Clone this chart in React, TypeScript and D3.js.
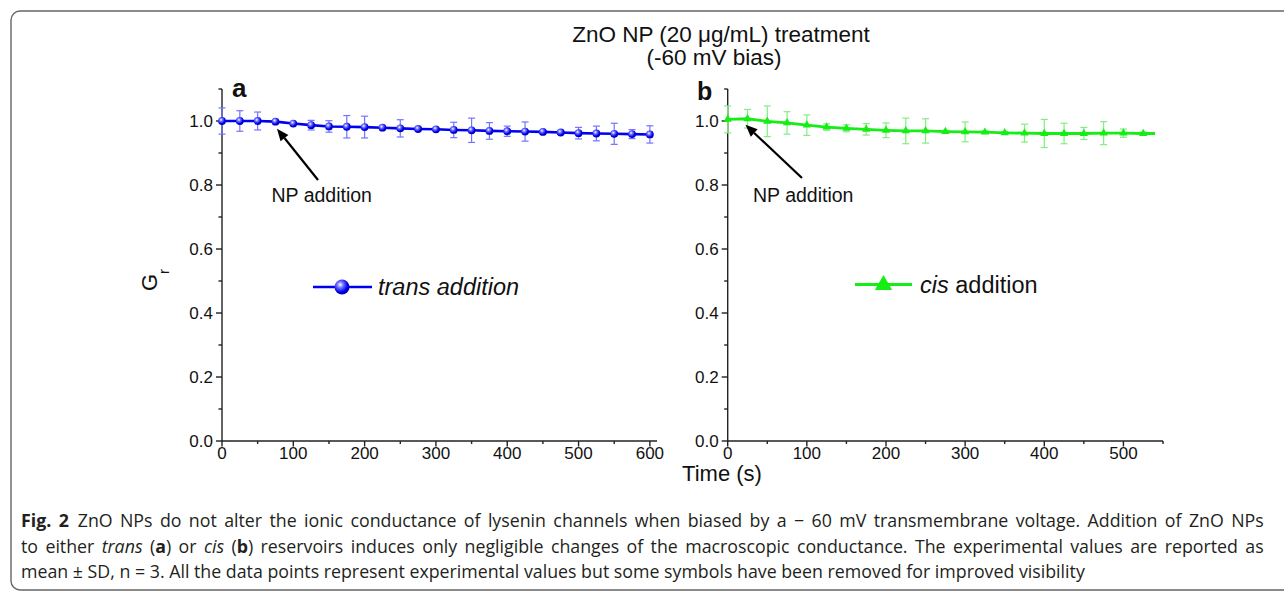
import React, { useLayoutEffect, useRef, useState } from 'react';
import * as d3 from 'd3';

// ---------- data ----------
const transTime = [0, 25, 50, 75, 100, 125, 150, 175, 200, 225, 250, 275, 300, 325, 350, 375, 400, 425, 450, 475, 500, 525, 550, 575, 600];
const transValue = [1.0, 1.0, 1.0, 0.998, 0.992, 0.987, 0.983, 0.982, 0.981, 0.979, 0.977, 0.975, 0.974, 0.972, 0.971, 0.969, 0.968, 0.967, 0.966, 0.964, 0.962, 0.961, 0.96, 0.959, 0.958];
const transErr = [0.041, 0.032, 0.028, 0.003, 0.003, 0.015, 0.018, 0.035, 0.034, 0.004, 0.027, 0.004, 0.004, 0.024, 0.038, 0.026, 0.016, 0.03, 0.004, 0.005, 0.018, 0.023, 0.033, 0.014, 0.027];

const cisTime = [0, 25, 50, 75, 100, 125, 150, 175, 200, 225, 250, 275, 300, 325, 350, 375, 400, 425, 450, 475, 500, 525, 540];
const cisValue = [1.005, 1.007, 0.999, 0.994, 0.987, 0.981, 0.977, 0.974, 0.971, 0.969, 0.969, 0.967, 0.966, 0.965, 0.963, 0.962, 0.961, 0.961, 0.961, 0.962, 0.962, 0.961, 0.961];
const cisErr = [0.042, 0.029, 0.048, 0.035, 0.032, 0.01, 0.011, 0.018, 0.023, 0.04, 0.038, 0.004, 0.031, 0.004, 0.004, 0.028, 0.044, 0.032, 0.019, 0.036, 0.013, 0.004, 0];
const cisSymbol = [true, true, true, true, true, true, true, true, true, true, true, true, true, true, true, true, true, true, true, true, true, true, false];

const xTicksA = [0, 100, 200, 300, 400, 500, 600];
const xMinorA = [50, 150, 250, 350, 450, 550];
const xTicksB = [0, 100, 200, 300, 400, 500];
const xMinorB = [50, 150, 250, 350, 450, 550];
const yTicks = [0, 0.2, 0.4, 0.6, 0.8, 1.0];
const yMinor = [0.1, 0.3, 0.5, 0.7, 0.9, 1.1];

const titleLines = ['ZnO NP (20 \u03bcg/mL) treatment', '(-60 mV bias)'];
const xLabel = 'Time (s)';
const annotationText = 'NP addition';
const annotationTimeA = 75;
const annotationTimeB = 25;

const captionLine1Rest = '\u2002ZnO NPs do not alter the ionic conductance of lysenin channels when biased by a \u2212 60 mV transmembrane voltage. Addition of ZnO NPs';
const captionLine2Tail = ') reservoirs induces only negligible changes of the macroscopic conductance. The experimental values are reported as';
const captionLine3 = 'mean \u00b1 SD, n = 3. All the data points represent experimental values but some symbols have been removed for improved visibility';

// ---------- styling ----------
const FONT = '"Liberation Sans", Arial, Helvetica, sans-serif';
const CAP_FONT = '"Open Sans", "Noto Sans", sans-serif';
const AXIS = '#222';
const BLUE = '#0000f0';
const BLUE_ERR = '#7373ff';
const GREEN = '#14ee14';
const GREEN_ERR = '#80ee80';

const yScale = d3.scaleLinear().domain([0, 1.1]).range([441, 89]);
const xA = d3.scaleLinear().domain([0, 610]).range([222, 657]);
const xB = d3.scaleLinear().domain([0, 550]).range([727.7, 1163]);

function Axes({ x, ticks, minor }: { x: d3.ScaleLinear<number, number>; ticks: number[]; minor: number[] }) {
  const [x0, x1] = x.range();
  const y0 = yScale(0);
  const yTop = yScale(1.1);
  return (
    <g stroke={AXIS} strokeWidth={1.4} fill="none">
      <line x1={x0} y1={y0} x2={x1} y2={y0} />
      <line x1={x0} y1={y0 + 0.7} x2={x0} y2={yTop} />
      {ticks.map((t) => (
        <line key={'xt' + t} x1={x(t)} x2={x(t)} y1={y0} y2={y0 + 5.5} />
      ))}
      {minor.map((t) => (
        <line key={'xm' + t} x1={x(t)} x2={x(t)} y1={y0} y2={y0 + 3} />
      ))}
      {yTicks.map((v) => (
        <line key={'yt' + v} x1={x0 - 6} x2={x0} y1={yScale(v)} y2={yScale(v)} />
      ))}
      {yMinor.map((v) => (
        <line key={'ym' + v} x1={x0 - 3.5} x2={x0} y1={yScale(v)} y2={yScale(v)} />
      ))}
      <g stroke="none" fill="#111" fontFamily={FONT} fontSize={17}>
        {ticks.map((t) => (
          <text key={'xl' + t} x={x(t)} y={y0 + 18} textAnchor="middle">
            {t}
          </text>
        ))}
        {yTicks.map((v) => (
          <text key={'yl' + v} x={x0 - 9} y={yScale(v)} dy="0.36em" textAnchor="end">
            {v.toFixed(1)}
          </text>
        ))}
      </g>
    </g>
  );
}

function ErrorBars({ x, times, values, errs, color }: any) {
  return (
    <g stroke={color} strokeWidth={1.2}>
      {times.map((t: number, i: number) => {
        if (!errs[i]) return null;
        const cx = x(t);
        const yt = yScale(values[i] + errs[i]);
        const yb = yScale(values[i] - errs[i]);
        return (
          <g key={i}>
            <line x1={cx} x2={cx} y1={yt} y2={yb} />
            <line x1={cx - 3.5} x2={cx + 3.5} y1={yt} y2={yt} />
            <line x1={cx - 3.5} x2={cx + 3.5} y1={yb} y2={yb} />
          </g>
        );
      })}
    </g>
  );
}

function Arrow({ x1, y1, x2, y2 }: { x1: number; y1: number; x2: number; y2: number }) {
  const ang = Math.atan2(y2 - y1, x2 - x1);
  const L = 12;
  const Wd = 5;
  const bx = x2 - L * Math.cos(ang);
  const by = y2 - L * Math.sin(ang);
  const px = -Math.sin(ang) * Wd;
  const py = Math.cos(ang) * Wd;
  return (
    <g>
      <line x1={x1} y1={y1} x2={bx} y2={by} stroke="#000" strokeWidth={2.2} />
      <path d={`M${x2},${y2}L${bx + px},${by + py}L${bx - px},${by - py}Z`} fill="#000" />
    </g>
  );
}

const triSmall = d3.symbol(d3.symbolTriangle, 30)() as string;
const triLegend = d3.symbol(d3.symbolTriangle, 130)() as string;

function countSpaces(s: string) {
  return (s.match(/ /g) || []).length;
}

export default function App() {
  const l1 = useRef<SVGTextElement>(null);
  const l2 = useRef<SVGTextElement>(null);
  const l3 = useRef<SVGTextElement>(null);
  const [cap, setCap] = useState({ sx: 1, ws1: 0, ws2: 0 });
  const CAP_X = 21;
  const CAP_W = 1244;
  const LINE3_W = 1065;

  useLayoutEffect(() => {
    if (l1.current && l2.current && l3.current) {
      const w1 = l1.current.getComputedTextLength();
      const w2 = l2.current.getComputedTextLength();
      const w3 = l3.current.getComputedTextLength();
      if (w3 > 0) {
        const sx = LINE3_W / w3;
        const target = CAP_W / sx;
        const n1 = countSpaces('Fig. 2' + captionLine1Rest);
        const n2 = countSpaces('to either trans (a) or cis (b' + captionLine2Tail);
        setCap({ sx, ws1: Math.max(0, (target - w1) / n1), ws2: Math.max(0, (target - w2) / n2) });
      }
    }
  }, []);

  const lineA = d3
    .line<number>()
    .x((_, i) => xA(transTime[i]))
    .y((d) => yScale(d));
  const lineB = d3
    .line<number>()
    .x((_, i) => xB(cisTime[i]))
    .y((d) => yScale(d));

  const iA = transTime.indexOf(annotationTimeA);
  const iB = cisTime.indexOf(annotationTimeB);
  const tipA = { x: xA(annotationTimeA) + 1.5, y: yScale(transValue[iA]) + 7 };
  const tipB = { x: xB(annotationTimeB) - 2, y: yScale(cisValue[iB]) + 6 };

  return (
    <svg
      width={1284}
      height={597}
      viewBox="0 0 1284 597"
      style={{ position: 'absolute', left: 0, top: 0, display: 'block', background: '#fff' }}
    >
      <defs>
        <radialGradient id="ball" cx="38%" cy="35%" r="65%">
          <stop offset="0%" stopColor="#ffffff" />
          <stop offset="30%" stopColor="#7a7aff" />
          <stop offset="75%" stopColor="#0000ee" />
          <stop offset="100%" stopColor="#0000b0" />
        </radialGradient>
      </defs>

      {/* frame */}
      <path
        d="M1296,11H20A9,9 0 0 0 11,20V581A9,9 0 0 0 20,590H1296"
        fill="none"
        stroke="#666"
        strokeWidth={1.4}
      />

      {/* title */}
      <g fontFamily={FONT} fontSize={22.5} fill="#111" textAnchor="middle">
        <text x={721} y={42}>
          {titleLines[0]}
        </text>
        <text x={714} y={65}>
          {titleLines[1]}
        </text>
      </g>

      {/* panel labels */}
      <text x={232} y={97} fontFamily={FONT} fontSize={26} fontWeight="bold" fill="#111">
        a
      </text>
      <text x={697} y={100} fontFamily={FONT} fontSize={25} fontWeight="bold" fill="#111">
        b
      </text>

      {/* y label */}
      <text transform="translate(157,291) rotate(-90)" fontFamily={FONT} fontSize={22} fill="#111">
        G
        <tspan fontSize={15} dy={12}>
          r
        </tspan>
      </text>

      {/* panel a */}
      <Axes x={xA} ticks={xTicksA} minor={xMinorA} />
      <ErrorBars x={xA} times={transTime} values={transValue} errs={transErr} color={BLUE_ERR} />
      <path d={lineA(transValue) as string} fill="none" stroke={BLUE} strokeWidth={2.6} />
      {transTime.map((t, i) => (
        <circle key={i} cx={xA(t)} cy={yScale(transValue[i])} r={3.9} fill="url(#ball)" />
      ))}

      {/* panel b */}
      <Axes x={xB} ticks={xTicksB} minor={xMinorB} />
      <ErrorBars x={xB} times={cisTime} values={cisValue} errs={cisErr} color={GREEN_ERR} />
      <path d={lineB(cisValue) as string} fill="none" stroke={GREEN} strokeWidth={2.8} />
      {cisTime.map((t, i) =>
        cisSymbol[i] ? (
          <path key={i} d={triSmall} transform={`translate(${xB(t)},${yScale(cisValue[i])})`} fill={GREEN} />
        ) : null
      )}

      {/* annotations */}
      <Arrow x1={318} y1={180} x2={tipA.x} y2={tipA.y} />
      <text x={271.5} y={202} fontFamily={FONT} fontSize={19.5} fill="#111">
        {annotationText}
      </text>
      <Arrow x1={802} y1={178} x2={tipB.x} y2={tipB.y} />
      <text x={753} y={202} fontFamily={FONT} fontSize={19.5} fill="#111">
        {annotationText}
      </text>

      {/* legends */}
      <line x1={313} x2={372} y1={287} y2={287} stroke={BLUE} strokeWidth={2.6} />
      <circle cx={342} cy={287} r={7.5} fill="url(#ball)" />
      <text x={378} y={295} fontFamily={FONT} fontSize={23.5} fontStyle="italic" fill="#111">
        trans addition
      </text>
      <line x1={855} x2={912} y1={284.5} y2={284.5} stroke={GREEN} strokeWidth={2.8} />
      <path d={triLegend} transform="translate(883.5,285)" fill={GREEN} />
      <text x={920} y={293} fontFamily={FONT} fontSize={23.5} fill="#111">
        <tspan fontStyle="italic">cis</tspan> addition
      </text>

      {/* x label */}
      <text x={722} y={481} fontFamily={FONT} fontSize={22} fill="#111" textAnchor="middle">
        {xLabel}
      </text>

      {/* caption */}
      <g transform={`translate(${CAP_X},0) scale(${cap.sx},1)`} fontFamily={CAP_FONT} fontSize={18} fill="#231f20">
        <text ref={l1} x={0} y={527} style={{ wordSpacing: cap.ws1 + 'px' }}>
          <tspan fontWeight="bold">Fig. 2</tspan>
          {captionLine1Rest}
        </text>
        <text ref={l2} x={0} y={553} style={{ wordSpacing: cap.ws2 + 'px' }}>
          {'to either '}
          <tspan fontStyle="italic">trans</tspan>
          {' ('}
          <tspan fontWeight="bold">a</tspan>
          {') or '}
          <tspan fontStyle="italic">cis</tspan>
          {' ('}
          <tspan fontWeight="bold">b</tspan>
          {captionLine2Tail}
        </text>
        <text ref={l3} x={0} y={578}>
          {captionLine3}
        </text>
      </g>
    </svg>
  );
}
